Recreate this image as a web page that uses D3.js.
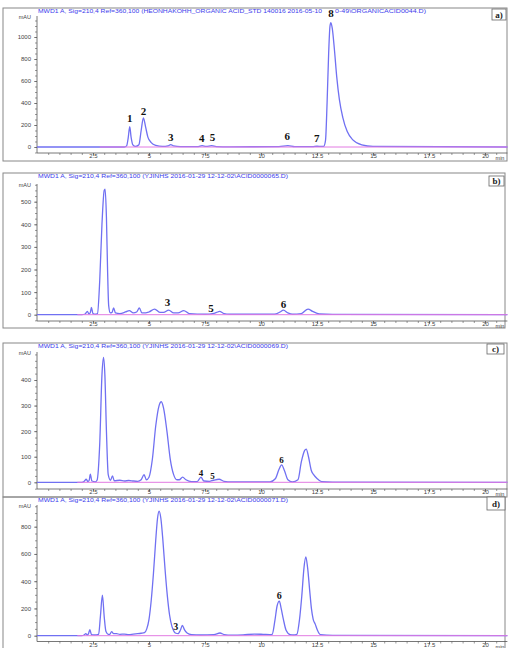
<!DOCTYPE html>
<html>
<head>
<meta charset="utf-8">
<script src="https://cdnjs.cloudflare.com/ajax/libs/d3/7.8.5/d3.min.js"></script>
<style>
  body { margin: 0; background: #fff; }
  text { font-family: "Liberation Sans", Arial, sans-serif; }
  text.serif { font-family: "Liberation Serif", "DejaVu Serif", serif; font-weight: bold; }
</style>
</head>
<body>
<div id="chart"></div>
<script>
// retention time (min) and signal (mAU)
var timeA = [0, 3.9, 4.0, 4.07, 4.14, 4.2, 4.28, 4.4, 4.55, 4.65, 4.75, 4.85, 4.95, 5.1, 5.3, 5.6, 5.85, 5.97, 6.1, 6.4, 7.2, 7.37, 7.55, 7.8, 8.0, 8.6, 10.8, 11.2, 11.5, 12.3, 12.5, 12.7, 12.8, 12.88, 12.95, 13.02, 13.08, 13.12, 13.18, 13.28, 13.38, 13.5, 13.65, 13.85, 14.1, 14.5, 15.0, 21];
var sigA  = [0, 0, 10, 80, 185, 90, 20, 5, 20, 150, 265, 180, 90, 40, 15, 5, 10, 22, 10, 3, 4, 12, 5, 12, 4, 2, 3, 12, 3, 3, 7, 5, 6, 60, 400, 850, 1100, 1130, 1080, 880, 640, 430, 270, 140, 65, 20, 6, 0];

var timeB = [0, 2.0, 2.15, 2.25, 2.32, 2.38, 2.43, 2.5, 2.6, 2.7, 2.8, 2.9, 3.0, 3.04, 3.1, 3.15, 3.2, 3.27, 3.35, 3.42, 3.5, 3.7, 3.95, 4.12, 4.3, 4.45, 4.57, 4.68, 4.85, 5.0, 5.25, 5.5, 5.65, 5.88, 6.1, 6.3, 6.55, 6.8, 7.5, 7.9, 8.02, 8.15, 8.35, 8.6, 10.6, 10.85, 11.0, 11.2, 11.4, 11.8, 12.1, 12.3, 12.6, 13.2, 21];
var sigB  = [0, 0, 3, 15, 3, 10, 32, 5, 2, 5, 150, 400, 550, 556, 430, 200, 40, 8, 10, 30, 8, 5, 12, 18, 8, 12, 30, 8, 8, 12, 25, 10, 10, 20, 8, 8, 18, 5, 2, 6, 10, 15, 5, 2, 2, 12, 20, 8, 2, 5, 25, 15, 3, 1, 0];

var timeC = [0, 2.0, 2.1, 2.2, 2.27, 2.33, 2.38, 2.45, 2.6, 2.68, 2.8, 2.9, 2.97, 3.03, 3.1, 3.18, 3.28, 3.37, 3.45, 3.7, 3.9, 4.1, 4.3, 4.5, 4.65, 4.78, 4.88, 5.0, 5.15, 5.3, 5.45, 5.55, 5.65, 5.8, 5.95, 6.1, 6.25, 6.35, 6.5, 6.65, 6.9, 7.15, 7.32, 7.45, 7.7, 7.87, 8.13, 8.35, 8.7, 10.4, 10.65, 10.8, 10.92, 11.05, 11.2, 11.4, 11.65, 11.8, 11.95, 12.02, 12.12, 12.25, 12.35, 12.5, 12.7, 13.2, 21];
var sigC  = [0, 0, 3, 12, 3, 8, 32, 5, 2, 8, 150, 420, 488, 420, 200, 30, 8, 25, 6, 8, 5, 7, 5, 4, 10, 30, 10, 20, 90, 220, 300, 315, 290, 200, 90, 30, 10, 10, 20, 10, 3, 3, 20, 5, 4, 8, 12, 4, 2, 2, 15, 50, 68, 45, 10, 2, 10, 80, 125, 130, 100, 45, 30, 15, 3, 1, 0];

var timeD = [0, 2.0, 2.1, 2.18, 2.25, 2.3, 2.36, 2.43, 2.55, 2.75, 2.83, 2.92, 3.0, 3.08, 3.18, 3.25, 3.33, 3.42, 3.55, 3.7, 3.9, 4.1, 4.3, 4.5, 4.65, 4.8, 4.9, 5.0, 5.1, 5.2, 5.3, 5.38, 5.45, 5.53, 5.62, 5.72, 5.82, 5.92, 6.02, 6.12, 6.2, 6.3, 6.4, 6.49, 6.58, 6.7, 6.9, 7.3, 7.9, 8.17, 8.35, 8.7, 9.2, 9.7, 10.1, 10.4, 10.5, 10.62, 10.72, 10.82, 10.9, 11.0, 11.12, 11.3, 11.45, 11.6, 11.72, 11.82, 11.92, 12.0, 12.08, 12.18, 12.25, 12.33, 12.42, 12.52, 12.65, 13.2, 21];
var sigD  = [0, 0, 5, 15, 5, 15, 45, 8, 5, 10, 140, 298, 140, 30, 10, 10, 30, 15, 15, 10, 12, 8, 12, 15, 18, 22, 50, 120, 260, 460, 700, 860, 914, 860, 700, 480, 290, 150, 70, 30, 18, 15, 40, 75, 45, 20, 8, 5, 8, 20, 8, 4, 6, 12, 10, 8, 10, 110, 220, 254, 200, 120, 40, 8, 5, 10, 120, 290, 500, 578, 500, 320, 200, 120, 85, 40, 8, 2, 0];

// peak numbers: label, time, signal at the label's baseline
var labelsA = ["1", "2", "3", "4", "5", "6", "7", "8"];
var labelTimeA = [4.14, 4.75, 5.97, 7.35, 7.84, 11.17, 12.49, 13.12];
var labelSigA = [230, 291, 57, 43, 57, 64, 43, 1179];

var labelsB = ["3", "5", "6"];
var labelTimeB = [5.83, 7.77, 11.0];
var labelSigB = [40, 12, 28];

var labelsC = ["4", "5", "6"];
var labelTimeC = [7.32, 7.83, 10.92];
var labelSigC = [25, 14, 74];

var labelsD = ["3", "6"];
var labelTimeD = [6.19, 10.82];
var labelSigD = [42, 269];

// axis ticks
var xTicks = [2.5, 5, 7.5, 10, 12.5, 15, 17.5, 20];
var yTicksA = [0, 200, 400, 600, 800, 1000];
var yTicksB = [0, 100, 200, 300, 400, 500];
var yTicksC = [0, 100, 200, 300, 400];
var yTicksD = [0, 200, 400, 600, 800];

// titles (panel a is split around the "8" label)
var titleA = ["MWD1 A, Sig=210,4 Ref=360,100 (HEONHAKOHH_ORGANIC ACID_STD 140016 2016-05-10", "0-49\\ORGANICACID0044.D)"];
var titleB = ["MWD1 A, Sig=210,4 Ref=360,100 (YJINHS 2016-01-29 12-12-02\\ACID0000065.D)"];
var titleC = ["MWD1 A, Sig=210,4 Ref=360,100 (YJINHS 2016-01-29 12-12-02\\ACID0000069.D)"];
var titleD = ["MWD1 A, Sig=210,4 Ref=360,100 (YJINHS 2016-01-29 12-12-02\\ACID0000071.D)"];

var W = 508, H = 648;
var svg = d3.select('#chart').append('svg')
    .attr('width', W)
    .attr('height', H);
svg.append('rect').attr('width', W).attr('height', H).attr('fill', '#fff');

var x = d3.scaleLinear().domain([0, 21]).range([37, 507.4]);

var panels = [
  { t: timeA, s: sigA, lab: labelsA, lt: labelTimeA, ls: labelSigA, ticks: yTicksA, minor: 50,
    title: titleA, titleX: [38, 335], titleW: [284, 91], tag: 'a)',
    frame: [3, 8, 504, 153], zeroY: 147, refVal: 1000, refY: 37, axTop: 16, axBot: 153, base0: 2.8,
    box: [492, 9, 14, 11], labSize: 11 },
  { t: timeB, s: sigB, lab: labelsB, lt: labelTimeB, ls: labelSigB, ticks: yTicksB, minor: 25,
    title: titleB, titleX: [38], titleW: [250], tag: 'b)',
    frame: [3, 173, 502, 155], zeroY: 314.7, refVal: 500, refY: 201.7, axTop: 184, axBot: 321, base0: 1.8,
    box: [489, 176, 15, 10], labSize: 11 },
  { t: timeC, s: sigC, lab: labelsC, lt: labelTimeC, ls: labelSigC, ticks: yTicksC, minor: 25,
    title: titleC, titleX: [38], titleW: [250], tag: 'c)',
    frame: [3, 343, 504, 154], zeroY: 482.3, refVal: 400, refY: 380, axTop: 352, axBot: 489, base0: 1.8,
    box: [487, 344, 17, 10], labSize: 9 },
  { t: timeD, s: sigD, lab: labelsD, lt: labelTimeD, ls: labelSigD, ticks: yTicksD, minor: 50,
    title: titleD, titleX: [38], titleW: [250], tag: 'd)',
    frame: [3, 497, 502, 160], zeroY: 635.7, refVal: 800, refY: 526.7, axTop: 505, axBot: 641.5, base0: 1.8,
    box: [487, 497, 18, 13], labSize: 10 }
];

panels.forEach(function(p) {
  var g = svg.append('g');
  var y = d3.scaleLinear().domain([0, p.refVal]).range([p.zeroY, p.refY]);

  g.append('rect')
      .attr('x', p.frame[0]).attr('y', p.frame[1])
      .attr('width', p.frame[2]).attr('height', p.frame[3])
      .attr('fill', 'none').attr('stroke', '#888').attr('stroke-width', 1);

  // title
  p.title.forEach(function(s, i) {
    g.append('text')
        .attr('x', p.titleX[i]).attr('y', p.frame[1] + 5)
        .attr('font-size', 6.2)
        .attr('fill', '#3c3cec')
        .attr('textLength', p.titleW[i])
        .attr('lengthAdjust', 'spacingAndGlyphs')
        .text(s);
  });

  // tag box
  g.append('rect')
      .attr('x', p.box[0]).attr('y', p.box[1])
      .attr('width', p.box[2]).attr('height', p.box[3])
      .attr('fill', '#fff').attr('stroke', '#666').attr('stroke-width', 0.8);
  g.append('text')
      .attr('class', 'serif')
      .attr('x', p.box[0] + p.box[2] / 2).attr('y', p.box[1] + p.box[3] / 2 + 3)
      .attr('text-anchor', 'middle')
      .attr('font-size', 9)
      .attr('fill', '#222')
      .text(p.tag);

  // axes lines
  g.append('line')
      .attr('x1', 37).attr('x2', 37).attr('y1', p.axTop).attr('y2', p.axBot)
      .attr('stroke', '#555').attr('stroke-width', 0.8);
  g.append('line')
      .attr('x1', 37).attr('x2', 507.4).attr('y1', p.axBot).attr('y2', p.axBot)
      .attr('stroke', '#555').attr('stroke-width', 0.8);

  // x ticks
  var xa = g.append('g')
      .attr('transform', 'translate(0,' + p.axBot + ')')
      .call(d3.axisBottom(x).tickValues(xTicks).tickSize(3).tickSizeOuter(0)
        .tickFormat(function(d) { return String(d); }));
  var xm = g.append('g')
      .attr('transform', 'translate(0,' + p.axBot + ')')
      .call(d3.axisBottom(x).tickValues(d3.range(0.5, 21, 0.5)).tickSize(2).tickSizeOuter(0).tickFormat(''));
  [xa, xm].forEach(function(a) {
    a.select('.domain').remove();
    a.selectAll('line').attr('stroke', '#555').attr('stroke-width', 0.6);
  });
  xa.selectAll('text').attr('font-size', 6).attr('fill', '#444').attr('dy', '0.55em').attr('y', 2);
  g.append('text')
      .attr('x', 500).attr('y', p.axBot + 7)
      .attr('text-anchor', 'middle').attr('font-size', 5.5).attr('fill', '#444')
      .text('min');

  // y ticks
  var ya = g.append('g')
      .attr('transform', 'translate(37,0)')
      .call(d3.axisLeft(y).tickValues(p.ticks).tickSize(3).tickSizeOuter(0).tickFormat(d3.format('d')));
  var minorVals = d3.range(-p.minor, y.invert(p.axTop), p.minor).filter(function(v) {
    return y(v) <= p.axBot && y(v) >= p.axTop;
  });
  var ym = g.append('g')
      .attr('transform', 'translate(37,0)')
      .call(d3.axisLeft(y).tickValues(minorVals).tickSize(2).tickSizeOuter(0).tickFormat(''));
  [ya, ym].forEach(function(a) {
    a.select('.domain').remove();
    a.selectAll('line').attr('stroke', '#555').attr('stroke-width', 0.6);
  });
  ya.selectAll('text').attr('font-size', 6).attr('fill', '#444').attr('x', -6);
  g.append('text')
      .attr('x', 31).attr('y', p.axTop + 2.5)
      .attr('text-anchor', 'end').attr('font-size', 5.5).attr('fill', '#444')
      .text('mAU');

  // trace
  var pts = p.t.map(function(t, i) { return [t, p.s[i]]; });
  var line = d3.line()
      .x(function(d) { return x(d[0]); })
      .y(function(d) { return y(d[1]); })
      .curve(d3.curveMonotoneX);
  g.append('path')
      .datum(pts)
      .attr('d', line)
      .attr('fill', 'none')
      .attr('stroke', '#7070f2')
      .attr('stroke-width', 1.3)
      .attr('stroke-linejoin', 'round');

  // baseline
  g.append('line')
      .attr('x1', x(p.base0)).attr('x2', x(21))
      .attr('y1', y(0)).attr('y2', y(0))
      .attr('stroke', '#e27ae2').attr('stroke-width', 1);

  // peak numbers
  g.selectAll('.peaklab')
      .data(p.lab)
      .enter()
      .append('text')
      .attr('class', 'serif peaklab')
      .attr('x', function(d, i) { return x(p.lt[i]); })
      .attr('y', function(d, i) { return y(p.ls[i]); })
      .attr('text-anchor', 'middle')
      .attr('font-size', p.labSize)
      .attr('fill', '#111')
      .text(function(d) { return d; });
});
</script>
</body>
</html>
